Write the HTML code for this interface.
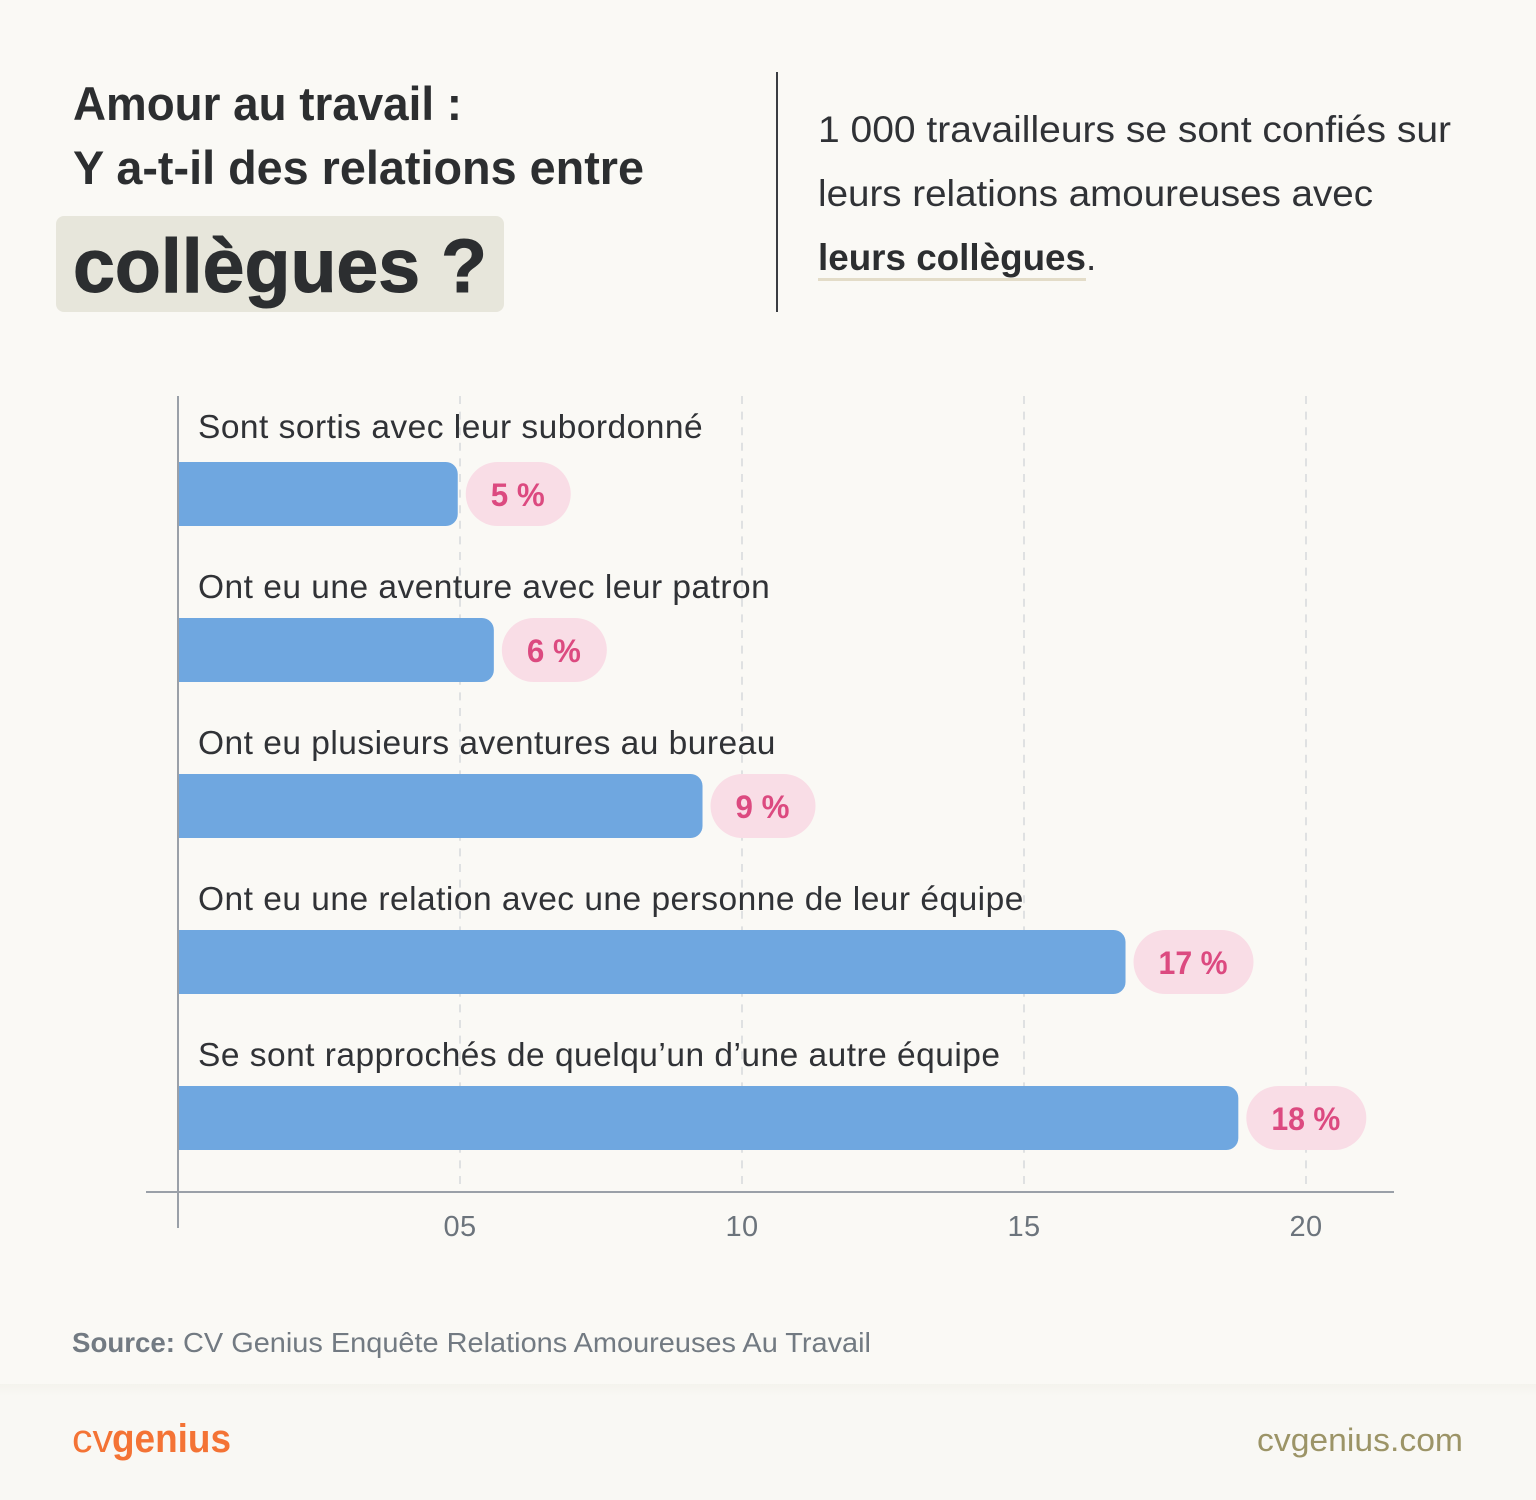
<!DOCTYPE html>
<html lang="fr">
<head>
<meta charset="utf-8">
<title>Amour au travail</title>
<style>
html,body{margin:0;padding:0;background:#faf9f5;}
#stage{display:block;width:1536px;height:1500px;font-family:"Liberation Sans",sans-serif;}
text{font-family:"Liberation Sans",sans-serif;}
</style>
</head>
<body>
<svg id="stage" xmlns="http://www.w3.org/2000/svg" width="1536" height="1500" viewBox="0 0 1536 1500">
  <defs>
    <linearGradient id="footShade" x1="0" y1="0" x2="0" y2="1">
      <stop offset="0" stop-color="#f4f3ed"/>
      <stop offset="1" stop-color="#f9f8f4"/>
    </linearGradient>
  </defs>
  <rect x="0" y="0" width="1536" height="1500" fill="#faf9f5"/>

  <text x="73" y="120" font-size="47" font-weight="700" fill="#2c2e30" textLength="389" lengthAdjust="spacingAndGlyphs">Amour au travail :</text>
  <text x="73" y="184" font-size="47" font-weight="700" fill="#2c2e30" textLength="571" lengthAdjust="spacingAndGlyphs">Y a-t-il des relations entre</text>
  <rect x="56" y="216" width="448" height="96" rx="8" fill="#e7e6db"/>
  <text x="73" y="292" font-size="76" font-weight="700" fill="#2c2e30" stroke="#2c2e30" stroke-width="1" textLength="414" lengthAdjust="spacingAndGlyphs">collègues ?</text>

  <rect x="776" y="72" width="2" height="240" fill="#3a3d42"/>

  <text x="818" y="142" font-size="37" fill="#303236" textLength="633" lengthAdjust="spacingAndGlyphs">1 000 travailleurs se sont confiés sur</text>
  <text x="818" y="206" font-size="37" fill="#303236" textLength="555" lengthAdjust="spacingAndGlyphs">leurs relations amoureuses avec</text>
  <text x="818" y="270" font-size="37" font-weight="700" fill="#2c2e30" textLength="268" lengthAdjust="spacingAndGlyphs">leurs collègues</text>
  <text x="1086" y="270" font-size="37" fill="#303236">.</text>
  <rect x="818" y="278" width="268" height="3" fill="#e3dcc8"/>

  <g id="chart"></g>

  <text x="72" y="1352" font-size="27.5" font-weight="700" fill="#727a82" textLength="103" lengthAdjust="spacingAndGlyphs">Source:</text>
  <text x="183" y="1352" font-size="27.5" fill="#727a82" textLength="688" lengthAdjust="spacingAndGlyphs">CV Genius Enquête Relations Amoureuses Au Travail</text>

  <rect x="0" y="1384" width="1536" height="116" fill="#f9f8f4"/>
  <rect x="0" y="1384" width="1536" height="12" fill="url(#footShade)"/>
  <text x="72" y="1452" font-size="40" fill="#f47335" textLength="41" lengthAdjust="spacingAndGlyphs">cv</text>
  <text x="112" y="1452" font-size="40" font-weight="700" fill="#f47335" textLength="119" lengthAdjust="spacingAndGlyphs">genius</text>
  <text x="1257" y="1451" font-size="32.5" fill="#9c9467" textLength="206" lengthAdjust="spacingAndGlyphs">cvgenius.com</text>
</svg>

<script>
var categories = [
  "Sont sortis avec leur subordonné",
  "Ont eu une aventure avec leur patron",
  "Ont eu plusieurs aventures au bureau",
  "Ont eu une relation avec une personne de leur équipe",
  "Se sont rapprochés de quelqu’un d’une autre équipe"
];
var seriesValues = [4.96, 5.6, 9.3, 16.8, 18.8];
var printedValues = ["5 %", "6 %", "9 %", "17 %", "18 %"];
var tickValues = [5, 10, 15, 20];
var tickLabels = ["05", "10", "15", "20"];

var SVGNS = "http://www.w3.org/2000/svg";
var chart = document.getElementById("chart");

function xScale(v) { return 178 + v * 56.4; }
function barTop(i) { return 462 + i * 156; }
function labelBaseline(i) { return barTop(i) - (i === 0 ? 24 : 20); }

function make(tag, attrs, text) {
  var el = document.createElementNS(SVGNS, tag);
  for (var k in attrs) { el.setAttribute(k, attrs[k]); }
  if (text !== undefined) { el.textContent = text; }
  chart.appendChild(el);
  return el;
}

tickValues.forEach(function (t, i) {
  var grid = make("line", {
    x1: xScale(t), x2: xScale(t), y1: 396, y2: 1190,
    stroke: "#dfe1e2", "stroke-width": 2, "stroke-dasharray": "8 7.6"
  });
  
  

  var tick = make("text", {
    x: xScale(t), y: 1236, "font-size": 29, "letter-spacing": 0.4, fill: "#6c747c", "text-anchor": "middle"
  }, tickLabels[i]);
  
  
});

categories.forEach(function (name, i) {
  var label = make("text", {
    x: 198, y: labelBaseline(i), "font-size": 33.5, "letter-spacing": 0.48, fill: "#303236"
  }, name);
  
  

  var end = xScale(seriesValues[i]);
  var y = barTop(i);
  var r = 12;
  var bar = make("path", {
    d: "M178 " + y + "H" + (end - r) + "A" + r + " " + r + " 0 0 1 " + end + " " + (y + r) +
       "V" + (y + 64 - r) + "A" + r + " " + r + " 0 0 1 " + (end - r) + " " + (y + 64) + "H178Z",
    fill: "#6fa7e0"
  });
  
  

  var pillWidth = printedValues[i].length > 3 ? 120 : 105;
  var pill = make("rect", {
    x: end + 8, y: y, width: pillWidth, height: 64, rx: 32, fill: "#f9dde6"
  });
  
  

  var textWidth = printedValues[i].length > 3 ? 69 : 54;
  var value = make("text", {
    x: end + 8 + (pillWidth - textWidth) / 2 - 0.5, y: y + 44, "font-size": 32, "font-weight": 700,
    fill: "#dc4a80", textLength: textWidth, lengthAdjust: "spacingAndGlyphs"
  }, printedValues[i]);
  
  
});

var xAxis = make("rect", { x: 146, y: 1191, width: 1248, height: 2, fill: "#9aa0a8" });



var yAxis = make("rect", { x: 177, y: 396, width: 2, height: 832, fill: "#9aa0a8" });


</script>
</body>
</html>
